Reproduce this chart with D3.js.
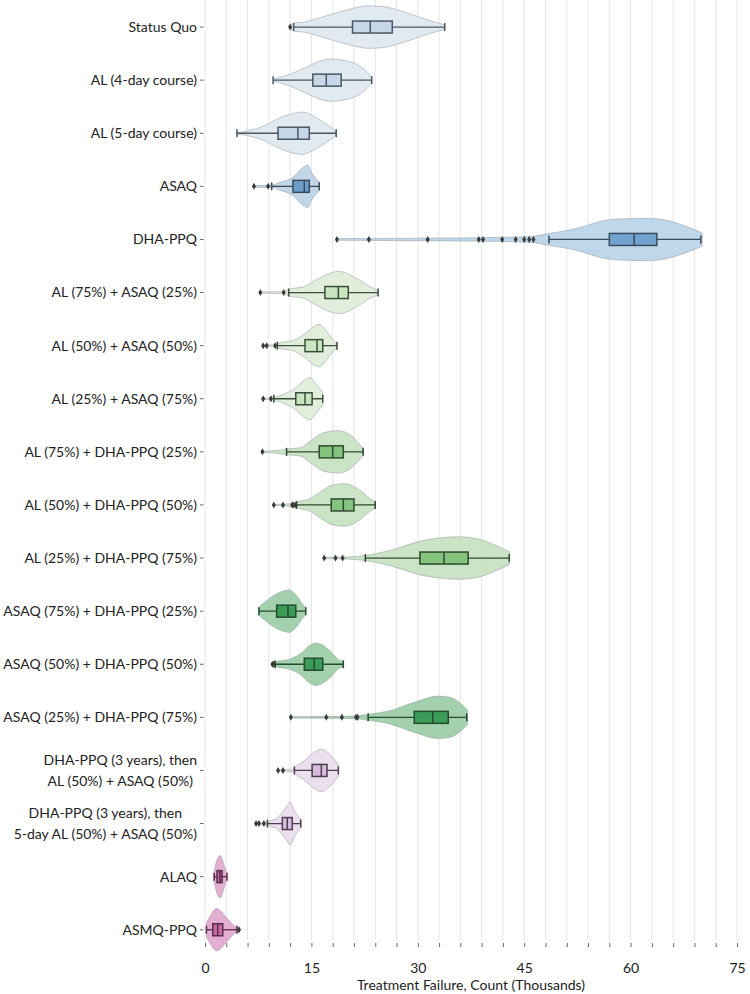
<!DOCTYPE html>
<html><head><meta charset="utf-8">
<script src="https://cdn.jsdelivr.net/npm/d3@7"></script>
<style>body{margin:0;background:#fff;} text{font-family:Lato,"Open Sans",sans-serif;}</style>
</head><body><div id="chart"></div>
<script>
const categories = [
  "Status Quo","AL (4-day course)","AL (5-day course)","ASAQ","DHA-PPQ",
  "AL (75%) + ASAQ (25%)","AL (50%) + ASAQ (50%)","AL (25%) + ASAQ (75%)",
  "AL (75%) + DHA-PPQ (25%)","AL (50%) + DHA-PPQ (50%)","AL (25%) + DHA-PPQ (75%)",
  "ASAQ (75%) + DHA-PPQ (25%)","ASAQ (50%) + DHA-PPQ (50%)","ASAQ (25%) + DHA-PPQ (75%)",
  "DHA-PPQ (3 years), then\nAL (50%) + ASAQ (50%)",
  "DHA-PPQ (3 years), then\n5-day AL (50%) + ASAQ (50%)",
  "ALAQ","ASMQ-PPQ"];
const groupOf = [0,0,0,1,2,3,3,3,4,4,4,5,5,5,6,6,7,7];
const whiskerLow  = [12.5, 9.6, 4.5, 9.4, 48.5, 11.8, 10.2, 9.7, 11.5, 12.9, 22.6, 7.6, 9.9, 23.0, 12.6, 8.8, 1.3, 0.2];
const q1          = [20.8,15.2,10.3,12.4, 57.0, 16.9, 14.1,12.8, 16.1, 17.8, 30.3,10.1,14.0, 29.5, 15.1,10.9, 1.7, 1.1];
const median      = [23.3,17.1,13.1,14.0, 60.5, 18.8, 15.8,14.1, 18.0, 19.5, 33.7,11.7,15.4, 32.1, 16.4,11.6, 2.1, 1.8];
const q3          = [26.4,19.2,14.7,14.7, 63.7, 20.2, 16.6,15.1, 19.5, 21.0, 37.1,12.8,16.6, 34.3, 17.2,12.3, 2.4, 2.5];
const whiskerHigh = [33.8,23.5,18.5,16.1, 69.9, 24.4, 18.6,16.6, 22.3, 24.0, 42.9,14.2,19.5, 36.9, 18.8,13.5, 3.1, 4.5];
const outliers = [
  [12.0],[],[],[6.9,8.9],
  [18.6,23.1,31.4,38.6,39.2,41.9,43.8,45.0,45.7,46.3],
  [7.8,11.1],[8.2,8.7,9.9],[8.2,9.3],
  [8.1],[9.7,11.0,12.3,12.5,12.8],[16.8,18.4,19.4],
  [],[9.5,9.7],[12.1,17.1,19.3,21.3,21.5],
  [10.3,11.0],[7.2,7.6,8.3],[],[4.8]];
// violin outlines: [value, relative half-width]
const violinProfiles = [
  [[12.0,0.04],[12.6,0.2],[14,0.24],[16,0.42],[18,0.62],[20.5,0.85],[23,1.0],[25,0.97],[28,0.72],[31,0.38],[33.8,0.1]],
  [[9.6,0.05],[12.0,0.28],[14.3,0.62],[16.7,0.95],[17.6,1.0],[20.4,0.87],[22.3,0.55],[23.5,0.15]],
  [[4.5,0.03],[6.5,0.15],[8.2,0.33],[10.6,0.73],[12.9,0.97],[13.6,1.0],[15.7,0.73],[17.2,0.41],[18.4,0.13]],
  [[6.9,0.04],[9.4,0.06],[10.6,0.19],[12.4,0.43],[13.6,0.83],[14.5,1.0],[15.0,0.67],[15.7,0.35],[16.1,0.22]],
  [[18.6,0.04],[25,0.05],[35,0.07],[42,0.1],[46,0.14],[48.6,0.29],[51,0.42],[53.3,0.6],[55.7,0.85],[58,0.96],[62.3,1.0],[65.1,0.9],[67.4,0.67],[69.8,0.35],[70.1,0.3]],
  [[7.8,0.03],[11.1,0.05],[11.8,0.16],[13.9,0.27],[15.7,0.6],[17.6,0.9],[18.8,1.0],[21.4,0.67],[23.3,0.27],[24.4,0.1]],
  [[8.2,0.03],[9.9,0.05],[10.2,0.1],[12.5,0.25],[14.1,0.57],[15.3,0.89],[16.1,1.0],[17.2,0.65],[18.1,0.25],[18.6,0.12]],
  [[8.2,0.03],[9.7,0.07],[11.0,0.2],[12.8,0.52],[13.9,0.84],[14.7,1.0],[15.7,0.67],[16.6,0.29]],
  [[8.1,0.03],[10.5,0.08],[11.5,0.14],[13.4,0.19],[14.8,0.5],[16.7,0.9],[18.7,1.0],[20.4,0.82],[21.6,0.43],[22.2,0.2]],
  [[9.7,0.03],[12.8,0.08],[12.9,0.12],[14.8,0.29],[16.2,0.6],[18.1,0.95],[19.7,1.0],[21.9,0.68],[23.3,0.29],[24.0,0.15]],
  [[16.8,0.03],[20,0.05],[22.6,0.12],[25.1,0.28],[27.5,0.5],[29.8,0.75],[32.7,0.93],[35.5,1.0],[38.5,0.9],[41,0.6],[42.9,0.3]],
  [[7.6,0.2],[8.7,0.5],[10.1,0.82],[11.9,1.0],[12.9,0.74],[13.9,0.28],[14.2,0.18]],
  [[9.5,0.03],[9.9,0.1],[12.0,0.25],[13.4,0.48],[14.8,0.89],[15.7,1.0],[17.6,0.65],[19.0,0.18],[19.5,0.14]],
  [[12.1,0.03],[19.3,0.05],[21.4,0.07],[23.0,0.14],[26.1,0.32],[29.5,0.71],[32.9,1.0],[34.5,0.95],[36.0,0.67],[37.0,0.35]],
  [[10.3,0.03],[12.5,0.06],[12.6,0.12],[13.9,0.43],[15.0,0.75],[16.4,1.0],[17.6,0.75],[18.8,0.27]],
  [[7.2,0.03],[8.8,0.06],[9.2,0.14],[10.1,0.24],[10.8,0.48],[11.5,0.8],[12.0,1.0],[12.7,0.56],[13.5,0.2]],
  [[1.2,0.1],[1.4,0.43],[2.1,1.0],[2.8,0.43],[3.1,0.1]],
  [[0.2,0.32],[0.8,0.7],[1.6,1.0],[3.1,0.56],[4.2,0.16],[4.8,0.08]]
];
const xTickValues = d3.range(0, 76, 3);
const xLabelEvery = 15;
const xTitle = "Treatment Failure, Count (Thousands)";

// styles
const violinFill = ["#dde6ef","#b8d1e5","#b5d1e7","#dcecd6","#c3e0bd","#96cba3","#e8d9ea","#dea3cb"];
const boxFill    = ["#c6d8e7","#6b9fc9","#70a4ce","#c7e5bf","#84c47e","#3b9b59","#d7bddd","#c96aa6"];
const edgeCol    = ["#4b5763","#3a4a5a","#3a4a5a","#3d4d3d","#2f4a30","#234d2e","#4d3e50","#5a2d4a"];
const labelSize = 14, tickSize = 14;

const W = 750, H = 994;
const svg = d3.select("#chart").append("svg").attr("width", W).attr("height", H);
const x = d3.scaleLinear().domain([0, 75]).range([205, 737]);
const y = d3.scaleBand().domain(categories).range([0.5, 956.3]).paddingInner(0).paddingOuter(0);
const hw = d3.scaleLinear().domain([0, 1]).range([0, y.bandwidth() * 0.4]);
const cy = c => y(c) + y.bandwidth() / 2;

// grid
svg.append("g").selectAll("line").data(xTickValues).join("line")
  .attr("x1", d => x(d)).attr("x2", d => x(d)).attr("y1", 0).attr("y2", 940)
  .attr("stroke", "#e5e5e5").attr("stroke-width", 1);

// x axis
const xAxis = svg.append("g").attr("transform", "translate(0,943)")
  .call(d3.axisBottom(x).tickValues(xTickValues)
    .tickFormat(d => d % xLabelEvery === 0 ? d : "").tickSize(4).tickPadding(16));
xAxis.select(".domain").remove();
xAxis.selectAll(".tick line").attr("stroke", "#666");
xAxis.selectAll("text").attr("font-size", tickSize).attr("fill", "#222")
  .attr("font-family", "Lato, sans-serif");
svg.append("text").attr("x", (x(0) + x(75)) / 2).attr("y", 990).attr("text-anchor", "middle")
  .attr("font-size", tickSize).attr("fill", "#222").text(xTitle);

// y labels
const yl = svg.append("g");
categories.forEach((c, i) => {
  const yc = cy(c);
  yl.append("line").attr("x1", 200).attr("x2", 203.5).attr("y1", yc).attr("y2", yc)
    .attr("stroke", "#666").attr("stroke-width", 1);
  const lines = c.split("\n");
  if (lines.length === 1) {
    yl.append("text").attr("x", 197).attr("y", yc).attr("dy", "0.35em")
      .attr("text-anchor", "end").attr("font-size", labelSize).attr("fill", "#222").text(c);
  } else {
    const t = yl.append("text").attr("font-size", labelSize).attr("fill", "#222").attr("text-anchor", "middle");
    const spans = lines.map((l, k) => t.append("tspan").attr("y", yc + (k - (lines.length - 1) / 2) * 21).attr("dy", "0.35em").text(l));
    const widths = spans.map(s => s.node().getComputedTextLength());
    const mw = d3.max(widths);
    spans.forEach(s => s.attr("x", 197 - mw / 2));
  }
});

// violins
const area = d3.area().curve(d3.curveMonotoneX);
categories.forEach((c, i) => {
  const g = groupOf[i], yc = cy(c);
  const prof = violinProfiles[i];
  svg.append("path")
    .attr("d", area.x(d => x(d[0])).y0(d => yc - hw(d[1])).y1(d => yc + hw(d[1]))(prof))
    .attr("fill", violinFill[g]).attr("fill-opacity", 0.88)
    .attr("stroke", "#9aa0a6").attr("stroke-opacity", 0.7).attr("stroke-width", 0.8);
  const bh = 12, ch = 8;
  const e = edgeCol[g];
  svg.append("line").attr("x1", x(whiskerLow[i])).attr("x2", x(whiskerHigh[i]))
    .attr("y1", yc).attr("y2", yc).attr("stroke", e).attr("stroke-width", 1.3);
  [whiskerLow[i], whiskerHigh[i]].forEach(v => svg.append("line")
    .attr("x1", x(v)).attr("x2", x(v)).attr("y1", yc - ch / 2).attr("y2", yc + ch / 2)
    .attr("stroke", e).attr("stroke-width", 1.5));
  svg.append("rect").attr("x", x(q1[i])).attr("y", yc - bh / 2)
    .attr("width", x(q3[i]) - x(q1[i])).attr("height", bh)
    .attr("fill", boxFill[g]).attr("stroke", e).attr("stroke-width", 1.5);
  svg.append("line").attr("x1", x(median[i])).attr("x2", x(median[i]))
    .attr("y1", yc - bh / 2).attr("y2", yc + bh / 2).attr("stroke", e).attr("stroke-width", 1.5);
  svg.append("g").selectAll("path").data(outliers[i]).join("path")
    .attr("transform", v => `translate(${x(v)},${yc})`)
    .attr("d", d3.symbol(d3.symbolDiamond, 14))
    .attr("fill", "#3a3a3a");
});
</script></body></html>
